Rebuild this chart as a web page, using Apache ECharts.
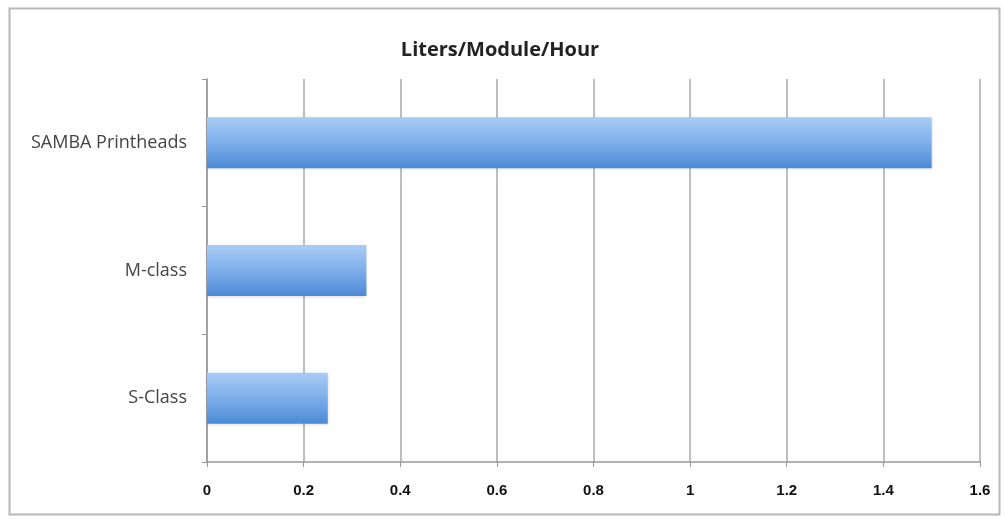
<!DOCTYPE html>
<html><head><meta charset="utf-8">
<script src="https://cdn.jsdelivr.net/npm/echarts@6/dist/echarts.min.js"></script>
<style>html,body{margin:0;padding:0;background:#fff}#c{width:1005px;height:519px}</style>
</head><body><div id="c"></div>
<script>
const categories = ['S-Class', 'M-class', 'SAMBA Printheads'];
const values = [0.25, 0.33, 1.5];
const xTicks = [0, 0.2, 0.4, 0.6, 0.8, 1, 1.2, 1.4, 1.6];
const title = 'Liters/Module/Hour';

const chart = echarts.init(document.getElementById('c'));
chart.setOption({
  animation: false,
  backgroundColor: '#fff',
  graphic: [{type: 'rect', shape: {x: 9.5, y: 8.5, width: 990, height: 506},
    style: {fill: 'none', stroke: '#b8b8b8', lineWidth: 2}, silent: true}],
  title: {text: title, left: 495, top: 35, textAlign: 'center',
    textStyle: {fontFamily: 'Open Sans', fontSize: 20, fontWeight: 'bold', color: '#222'}},
  grid: {left: 207, right: 25, top: 79, bottom: 57},
  xAxis: {type: 'value', min: 0, max: 1.6, interval: 0.2,
    axisLine: {show: true, lineStyle: {color: '#999', width: 1.5}},
    axisTick: {show: true, length: 5, lineStyle: {color: '#999'}},
    splitLine: {show: true, lineStyle: {color: '#a8a8a8', width: 1.5}},
    axisLabel: {margin: 21, fontFamily: 'Liberation Sans', fontSize: 15, fontWeight: 'bold', color: '#111',
      formatter: v => { const t = xTicks.find(x => Math.abs(x - v) < 1e-9); return t === undefined ? '' : String(t); }}},
  yAxis: {type: 'category', data: categories,
    axisLine: {show: true, lineStyle: {color: '#999', width: 1.5}},
    axisTick: {show: true, length: 5, inside: false, lineStyle: {color: '#999'}},
    axisLabel: {margin: 20, fontFamily: 'Open Sans', fontSize: 18, color: '#444'}},
  series: [{type: 'bar', data: values, barWidth: 51,
    itemStyle: {
      color: new echarts.graphic.LinearGradient(0, 0, 0, 1, [
        {offset: 0, color: '#a9ccf6'}, {offset: 0.5, color: '#7eaeea'}, {offset: 1, color: '#4b8ad6'}]),
      shadowColor: 'rgba(0,0,0,0.15)', shadowBlur: 3, shadowOffsetY: 1
    }}]
});
</script></body></html>
